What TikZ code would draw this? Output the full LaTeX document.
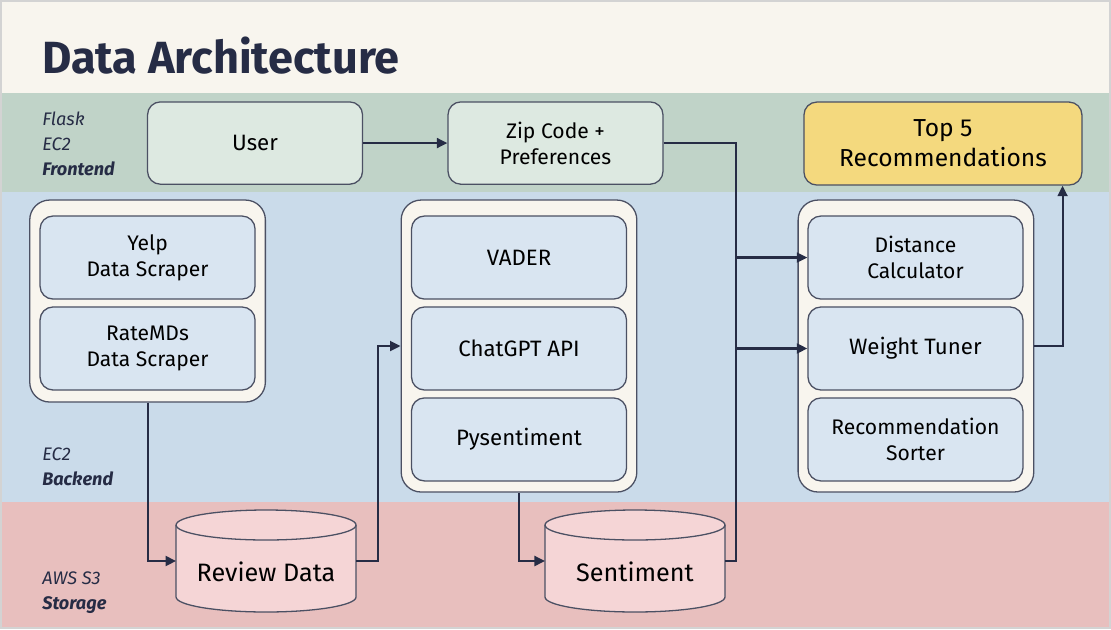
\documentclass[tikz,border=0pt]{standalone}
\usepackage{fontspec}
\setmainfont{Fira Sans}
\usetikzlibrary{positioning,arrows.meta}
\definecolor{ink}{HTML}{262C45}
\definecolor{edge}{HTML}{4B5063}
\definecolor{titlebg}{HTML}{F8F5EE}
\definecolor{frontbg}{HTML}{C0D3C8}
\definecolor{backbg}{HTML}{CADBEA}
\definecolor{storebg}{HTML}{E8BFBE}
\definecolor{boxfill}{HTML}{D9E5F1}
\definecolor{userfill}{HTML}{DDE9E1}
\definecolor{topfill}{HTML}{F4D97E}
\definecolor{dbfill}{HTML}{F5D5D6}
\definecolor{frame}{HTML}{D3D3D3}
\tikzset{
  box/.style={draw=edge, line width=1.1pt, rounded corners=11pt, align=center,
    text=black, font=\fontsize{18}{22}\selectfont},
  inbox/.style={box, fill=boxfill, minimum width=6.45cm, minimum height=2.49cm},
  single/.style={font=\fontsize{19}{22}\selectfont},
  frontbox/.style={box, fill=userfill, minimum width=6.45cm, minimum height=2.47cm},
  holder/.style={draw=edge, line width=1.1pt, fill=titlebg, rounded corners=17pt,
    minimum width=7.07cm},
  db/.style={rectangle, inner sep=0, outer sep=0, minimum width=5.4cm, minimum height=3.06cm},
  dbline/.style={draw=edge, fill=dbfill, line width=1.1pt},
  dbtext/.style={text=black, font=\fontsize{21.5}{24}\selectfont},
  lane/.style={anchor=base west, inner sep=0, text=ink, font=\itshape\fontsize{15.5}{20}\selectfont},
  lanebold/.style={lane, font=\bfseries\itshape\fontsize{15.5}{20}\selectfont},
  link/.style={draw=ink, line width=1.8pt}
}
% drum outline round an empty node
\newcommand\drum[1]{%
  \path[dbline] ([yshift=-0.45cm]#1.north west) -- ([yshift=0.45cm]#1.south west)
    arc[start angle=180, end angle=360, x radius=2.7cm, y radius=0.45cm]
    -- ([yshift=-0.45cm]#1.north east)
    arc[start angle=0, end angle=180, x radius=2.7cm, y radius=0.45cm] -- cycle;
  \draw[draw=edge, line width=1.1pt] ([yshift=-0.45cm]#1.north west)
    arc[start angle=180, end angle=360, x radius=2.7cm, y radius=0.45cm];
}
\begin{document}
\begin{tikzpicture}[x=0.03cm,y=-0.03cm,>={Triangle[length=9pt,width=8.5pt]}]
% bands
\fill[titlebg] (0,0) rectangle (1111,93);
\fill[frontbg] (0,93) rectangle (1111,192);
\fill[backbg] (0,192) rectangle (1111,502);
\fill[storebg] (0,502) rectangle (1111,627);
\draw[frame, line width=1.5pt] (0.8,0.8) rectangle (1110.2,628.2);

\node[anchor=base west, inner sep=0, text=ink, font=\bfseries\fontsize{38.5}{40}\selectfont] (title) at (42,73) {Data Architecture};

% lane labels
\node[lane] (flask) at (42,125) {Flask};
\node[lane] (ec2a) at (42,150) {EC2};
\node[lanebold] (front) at (42,175) {Frontend};
\node[lane] (ec2b) at (42,460) {EC2};
\node[lanebold] (back) at (42,485) {Backend};
\node[lane] (aws) at (42,584) {AWS S3};
\node[lanebold] (store) at (42,609) {Storage};

% frontend
\node[frontbox, single] (user) at (255,143) {User};
\node[frontbox] (zip) at (555.5,143) {Zip Code +\\Preferences};
\node[box, fill=topfill, minimum width=8.34cm, minimum height=2.49cm,
  font=\fontsize{21}{25.5}\selectfont] (top5) at (943,143.5) {Top 5\\Recommendations};

% backend holders
\node[holder, minimum height=6.06cm] (scrapers) at (147.5,301) {};
\node[holder, minimum height=8.76cm] (models) at (519,346) {};
\node[holder, minimum height=8.76cm] (ranker) at (916,346) {};

\node[inbox] (yelp) at (147.5,257.5) {Yelp\\Data Scraper};
\node[inbox, below=0.2cm of yelp] (ratemds) {RateMDs\\Data Scraper};

\node[inbox, single] (vader) at (519,257.5) {VADER};
\node[inbox, single, below=0.2cm of vader] (chatgpt) {ChatGPT API};
\node[inbox, single, below=0.2cm of chatgpt] (pysent) {Pysentiment};

\node[inbox] (dist) at (915.5,257.5) {Distance\\Calculator};
\node[inbox, single, below=0.2cm of dist] (weight) {Weight Tuner};
\node[inbox, below=0.2cm of weight] (sorter) {Recommendation\\Sorter};

% storage
\node[db] (review) at (266,561) {};
\drum{review}
\node[dbtext] (reviewtext) at (266,572) {Review Data};
\node[db] (sent) at (635,561) {};
\drum{sent}
\node[dbtext] (senttext) at (635,572) {Sentiment};

% connectors
\coordinate (rbend) at (378,561);
\coordinate (jbot) at (736,561);
\coordinate (jdc) at (736,0 |- dist.west);
\coordinate (jwt) at (736,0 |- weight.west);

\draw[link,->] (user) -- (zip);
\draw[link] (zip.east) -| (jbot) -- (sent.east);
\draw[link,->] (jdc) -- (dist);
\draw[link,->] (jwt) -- (weight);
\draw[link,->] (scrapers.south) |- (review.west);
\draw[link,->] (review.east) -- (rbend) |- (models.west);
\draw[link,->] (models.south) |- (sent.west);
\draw[link,->] (ranker.east) -| ([xshift=-0.6cm]top5.south east);
\end{tikzpicture}
\end{document}
